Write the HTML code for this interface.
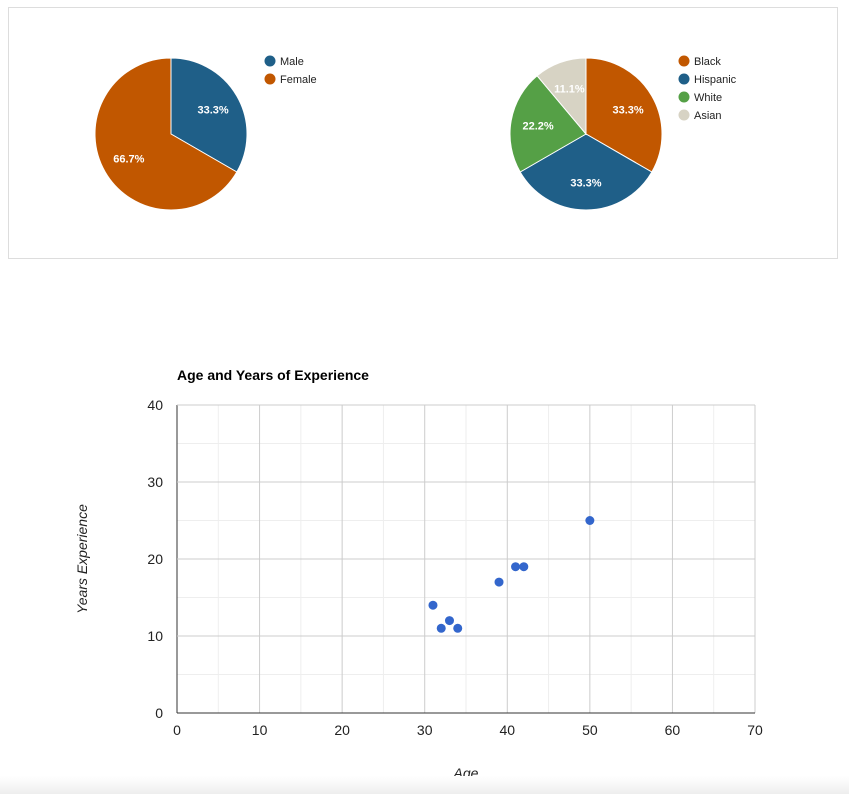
<!DOCTYPE html>
<html><head><meta charset="utf-8"><style>
body{margin:0;background:#fff;width:849px;height:794px;overflow:hidden;position:relative;font-family:"Liberation Sans",Arial,sans-serif}
#panel{position:absolute;left:8px;top:7px;width:828px;height:250px;border:1px solid #ddd;box-sizing:content-box}
#fade{position:absolute;left:0;top:776px;width:849px;height:18px;background:linear-gradient(#fff,#eee)}
</style></head><body>
<div id="panel"></div>
<svg id="pies" width="849" height="270" style="position:absolute;left:0;top:0"></svg>
<svg id="scatter" width="849" height="794" style="position:absolute;left:0;top:0"></svg>
<div id="fade"></div>
<script>
const genderLabels=["Male","Female"];
const genderValues=[1,2];
const genderColors=["#1f5f88","#c15700"];
const raceLabels=["Black","Hispanic","White","Asian"];
const raceValues=[3,3,2,1];
const raceColors=["#c15700","#1f5f88","#55a046","#d7d3c4"];
const ages=[31,32,33,34,39,41,42,50];
const years=[14,11,12,11,17,19,19,25];
const xTicks=[0,10,20,30,40,50,60,70];
const yTicks=[0,10,20,30,40];
const NS="http://www.w3.org/2000/svg";
function mk(p,t,a){const e=document.createElementNS(NS,t);for(const k in a)e.setAttribute(k,a[k]);p.appendChild(e);return e;}
const pies=document.getElementById('pies');
function pie(cx,cy,r,vals,cols,labels,lx,name){
  const tot=vals.reduce((a,b)=>a+b,0);let a0=0;
  vals.forEach((v,i)=>{
    const a1=a0+v/tot*2*Math.PI;
    const p=(a)=>[cx+r*Math.sin(a),cy-r*Math.cos(a)];
    const [x0,y0]=p(a0),[x1,y1]=p(a1);
    const path=mk(pies,'path',{d:`M${cx},${cy}L${x0},${y0}A${r},${r} 0 ${a1-a0>Math.PI?1:0} 1 ${x1},${y1}Z`,fill:cols[i],stroke:'#fff','stroke-width':1});
    
    
    const am=(a0+a1)/2;
    const t=mk(pies,'text',{x:cx+0.64*r*Math.sin(am),y:cy-0.64*r*Math.cos(am)+4,'text-anchor':'middle',fill:'#fff','font-size':11,'font-weight':'bold'});
    t.textContent=(v/tot*100).toFixed(1)+'%';
    
    
    const c=mk(pies,'circle',{cx:lx,cy:61+18*i,r:5.5,fill:cols[i]});
    
    
    const lt=mk(pies,'text',{x:lx+10,y:65+18*i,fill:'#222','font-size':11});
    lt.textContent=labels[i];
    
    
    a0=a1;
  });
}
pie(171,134,76,genderValues,genderColors,genderLabels,270,'gender');
pie(586,134,76,raceValues,raceColors,raceLabels,684,'race');
const s=document.getElementById('scatter');
const L=177,R=755,T=405,B=713;
const xs=v=>L+(v-0)/70*(R-L), ys=v=>B-(v-0)/40*(B-T);
for(let v=5;v<70;v+=10){const l=mk(s,'line',{x1:xs(v),x2:xs(v),y1:T,y2:B,stroke:'#eee'});}
for(let v=5;v<40;v+=10){const l=mk(s,'line',{x1:L,x2:R,y1:ys(v),y2:ys(v),stroke:'#eee'});}
xTicks.forEach(v=>{const l=mk(s,'line',{x1:xs(v),x2:xs(v),y1:T,y2:B,stroke:v==0?'#333':'#ccc'});
 const t=mk(s,'text',{x:xs(v),y:B+22,'text-anchor':'middle','font-size':14,fill:'#222'});t.textContent=v;});
yTicks.forEach(v=>{const l=mk(s,'line',{x1:L,x2:R,y1:ys(v),y2:ys(v),stroke:v==0?'#333':'#ccc'});
 const t=mk(s,'text',{x:L-14,y:ys(v)+5,'text-anchor':'end','font-size':14,fill:'#222'});t.textContent=v;});
ages.forEach((a,i)=>{const c=mk(s,'circle',{cx:xs(a),cy:ys(years[i]),r:4.5,fill:'#3366cc'});});
let t=mk(s,'text',{x:177,y:380,'font-size':14,'font-weight':'bold',fill:'#000'});t.textContent='Age and Years of Experience';
t=mk(s,'text',{x:466,y:778,'text-anchor':'middle','font-size':14,'font-style':'italic',fill:'#222'});t.textContent='Age';
t=mk(s,'text',{x:87,y:559,'text-anchor':'middle','font-size':14,'font-style':'italic',fill:'#222',transform:'rotate(-90 87 559)'});t.textContent='Years Experience';
</script>
</body></html>
